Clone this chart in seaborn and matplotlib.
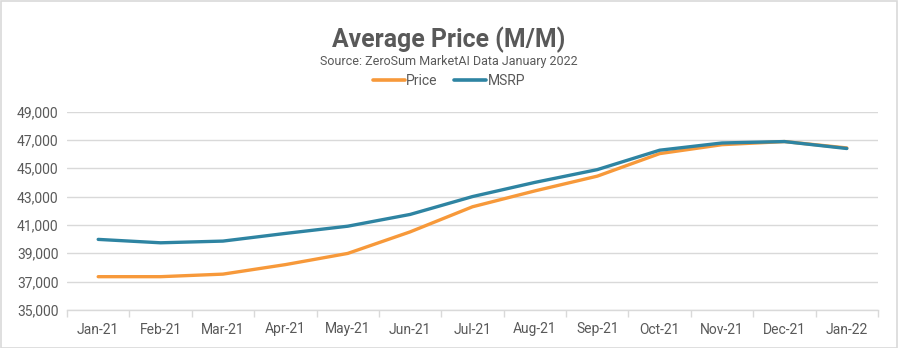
import matplotlib
matplotlib.use("Agg")
import matplotlib.pyplot as plt
import seaborn as sns
import pandas as pd
from matplotlib.lines import Line2D
from matplotlib.patches import Rectangle
from matplotlib.ticker import FuncFormatter, FixedLocator

months = ["Jan-21", "Feb-21", "Mar-21", "Apr-21", "May-21", "Jun-21", "Jul-21",
          "Aug-21", "Sep-21", "Oct-21", "Nov-21", "Dec-21", "Jan-22"]
price = [37350, 37350, 37530, 38200, 38990, 40510, 42280, 43400, 44440, 46030, 46660, 46880, 46430]
msrp = [39980, 39740, 39860, 40400, 40910, 41740, 43000, 44000, 44900, 46270, 46780, 46880, 46390]
y_ticks = [35000, 37000, 39000, 41000, 43000, 45000, 47000, 49000]

title = "Average Price (M/M)"
subtitle = "Source: ZeroSum MarketAI Data January 2022"
series_names = ["Price", "MSRP"]
colors = {"Price": "#F7993A", "MSRP": "#2E84A2"}

df = pd.DataFrame({
    "month": months * 2,
    "value": price + msrp,
    "series": ["Price"] * len(months) + ["MSRP"] * len(months),
})

sns.set_theme(style="white")
plt.rcParams["font.family"] = ["Roboto", "DejaVu Sans"]
text_color = "#595959"

fig = plt.figure(figsize=(8.98, 3.48), dpi=100)
ax = fig.add_axes([67 / 898, 1 - 310 / 348, (878 - 67) / 898, (310 - 111.5) / 348])

sns.lineplot(data=df, x="month", y="value", hue="series", palette=colors,
             sort=False, linewidth=2.4, ax=ax, legend=False)

ax.set_xlim(-0.5, len(months) - 0.5)
ax.set_ylim(y_ticks[0], y_ticks[-1])
ax.set_yticks(y_ticks)
ax.yaxis.set_major_formatter(FuncFormatter(lambda v, p: f"{int(v):,}"))
ax.set_xticks(range(len(months)))
ax.set_xticklabels(months)
ax.xaxis.set_minor_locator(FixedLocator([i - 0.5 for i in range(len(months) + 1)]))
ax.tick_params(axis="x", which="major", length=0, pad=9, labelsize=10, labelcolor=text_color)
ax.tick_params(axis="x", which="minor", length=5, width=1, color="#D9D9D9", bottom=True)
ax.tick_params(axis="y", length=0, pad=6, labelsize=10, labelcolor=text_color)
ax.set_xlabel("")
ax.set_ylabel("")
ax.grid(axis="y", color="#D9D9D9", linewidth=1)
ax.set_axisbelow(True)
for s in ["top", "right", "left"]:
    ax.spines[s].set_visible(False)
ax.spines["bottom"].set_color("#D9D9D9")
ax.spines["bottom"].set_linewidth(1)

fig.text(0.5, 1 - 40 / 348, title, ha="center", va="center", fontsize=17.8,
         fontweight="bold", color=text_color)
fig.text(0.5, 1 - 61 / 348, subtitle, ha="center", va="center", fontsize=9,
         color=text_color)

handles = [Line2D([0], [0], color=colors[n], linewidth=2.6) for n in series_names]
fig.legend(handles, series_names, loc="center", bbox_to_anchor=(0.5, 1 - 81 / 348),
           ncol=2, frameon=False, fontsize=10, handlelength=2.3, handletextpad=0.1,
           columnspacing=1.2, labelcolor=text_color)

fig.patches.append(Rectangle((0.5 / 898, 0.5 / 348), 1 - 1.5 / 898, 1 - 1.5 / 348,
                             transform=fig.transFigure, fill=False,
                             edgecolor="#D9D9D9", linewidth=1.2))

fig.savefig("out.png", dpi=100)
